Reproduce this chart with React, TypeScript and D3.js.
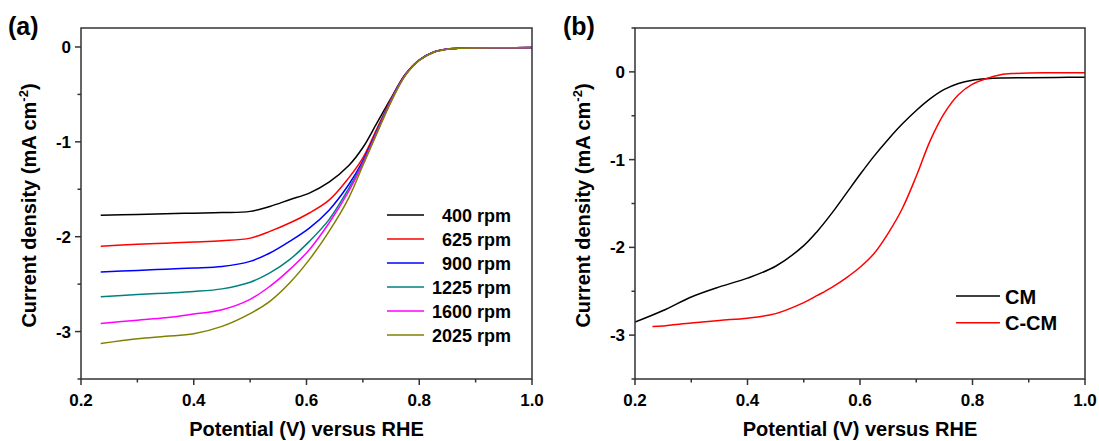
import React from "react";
import * as d3 from "d3";

// ---------- Panel (a) data ----------
const potentialA = [0.235, 0.3, 0.35, 0.4, 0.45, 0.5, 0.535, 0.57, 0.605, 0.64, 0.675, 0.7, 0.725, 0.75, 0.775, 0.8, 0.825, 0.85, 0.875, 0.9, 0.95, 1.0];
const rpm400 = [-1.775, -1.765, -1.758, -1.752, -1.746, -1.733, -1.681, -1.61, -1.54, -1.425, -1.25, -1.06, -0.8, -0.54, -0.29, -0.14, -0.055, -0.022, -0.013, -0.01, -0.008, -0.006];
const rpm625 = [-2.1, -2.08, -2.068, -2.056, -2.042, -2.015, -1.944, -1.856, -1.75, -1.615, -1.38, -1.17, -0.86, -0.55, -0.29, -0.135, -0.055, -0.022, -0.013, -0.01, -0.008, -0.006];
const rpm900 = [-2.372, -2.355, -2.342, -2.33, -2.314, -2.26, -2.172, -2.049, -1.909, -1.72, -1.45, -1.2, -0.88, -0.56, -0.295, -0.137, -0.056, -0.022, -0.013, -0.01, -0.008, -0.006];
const rpm1225 = [-2.633, -2.61, -2.595, -2.578, -2.55, -2.48, -2.382, -2.242, -2.049, -1.82, -1.49, -1.22, -0.89, -0.56, -0.297, -0.138, -0.056, -0.022, -0.013, -0.01, -0.008, -0.006];
const rpm1600 = [-2.914, -2.88, -2.855, -2.815, -2.77, -2.66, -2.523, -2.347, -2.137, -1.856, -1.52, -1.23, -0.9, -0.57, -0.3, -0.14, -0.057, -0.022, -0.013, -0.01, -0.008, -0.006];
const rpm2025 = [-3.125, -3.075, -3.05, -3.022, -2.945, -2.81, -2.681, -2.488, -2.242, -1.944, -1.59, -1.25, -0.91, -0.58, -0.305, -0.142, -0.058, -0.023, -0.013, -0.01, -0.008, -0.006];
const legendA = ["400 rpm", "625 rpm", "900 rpm", "1225 rpm", "1600 rpm", "2025 rpm"];
const colorsA = ["#000000", "#ff0000", "#0000ff", "#008080", "#ff00ff", "#808000"];

// ---------- Panel (b) data ----------
const potentialCM = [0.2, 0.25, 0.3, 0.35, 0.4, 0.45, 0.5, 0.525, 0.55, 0.575, 0.6, 0.625, 0.65, 0.675, 0.7, 0.725, 0.75, 0.775, 0.8, 0.825, 0.85, 0.9, 0.95, 1.0];
const currentCM = [-2.852, -2.72, -2.565, -2.45, -2.35, -2.215, -1.98, -1.81, -1.61, -1.39, -1.17, -0.96, -0.77, -0.595, -0.44, -0.305, -0.2, -0.132, -0.095, -0.078, -0.07, -0.066, -0.063, -0.061];
const potentialCCM = [0.231, 0.25, 0.3, 0.35, 0.4, 0.45, 0.5, 0.525, 0.55, 0.575, 0.6, 0.625, 0.65, 0.675, 0.7, 0.725, 0.75, 0.775, 0.8, 0.825, 0.85, 0.875, 0.9, 0.95, 1.0];
const currentCCM = [-2.902, -2.895, -2.862, -2.832, -2.807, -2.755, -2.63, -2.545, -2.455, -2.35, -2.227, -2.07, -1.84, -1.56, -1.19, -0.78, -0.47, -0.26, -0.14, -0.075, -0.032, -0.018, -0.012, -0.011, -0.011];
const legendB = ["CM", "C-CM"];
const colorsB = ["#000000", "#ff0000"];

const xTicks = [0.2, 0.4, 0.6, 0.8, 1.0];
const xMinor = [0.3, 0.5, 0.7, 0.9];
const yTicks = [0, -1, -2, -3];
const yMinorA = [-0.5, -1.5, -2.5, -3.5];
const yMinorB = [0.5, -0.5, -1.5, -2.5, -3.5];

const FONT = "'Liberation Sans', Arial, Helvetica, sans-serif";
const AXIS = "#333333";

type Series = { xs: number[]; ys: number[]; color: string };

function Panel(props: {
  left: number; right: number; top: number; bottom: number;
  yDomain: [number, number]; yMinor: number[]; series: Series[];
  tag: string; tagX: number; yTitleX: number; children?: React.ReactNode;
}) {
  const { left, right, top, bottom, yDomain, yMinor, series, tag, tagX, yTitleX } = props;
  const x = d3.scaleLinear().domain([0.2, 1.0]).range([left, right]);
  const y = d3.scaleLinear().domain(yDomain).range([bottom, top]);
  const line = d3.line<[number, number]>().x(d => x(d[0])).y(d => y(d[1])).curve(d3.curveCatmullRom.alpha(0.5));
  const midY = (top + bottom) / 2;
  const cid = tag === "(a)" ? "clipA" : "clipB";
  return (
    <g>
      <text x={tagX} y={35} fontFamily={FONT} fontWeight="bold" fontSize={25} fill="#000">{tag}</text>
      <defs>
        <clipPath id={cid}>
          <rect x={left} y={top} width={right - left} height={bottom - top} />
        </clipPath>
      </defs>
      <g clipPath={`url(#${cid})`}>
        {series.map((s, i) => (
          <path key={i} d={line(s.xs.map((v, k) => [v, s.ys[k]] as [number, number])) || ""} fill="none" stroke={s.color} strokeWidth={1.5} />
        ))}
      </g>
      <rect x={left} y={top} width={right - left} height={bottom - top} fill="none" stroke={AXIS} strokeWidth={1.5} />
      {xTicks.map(t => (
        <g key={"xt" + t}>
          <line x1={x(t)} x2={x(t)} y1={bottom} y2={bottom + 6} stroke={AXIS} strokeWidth={1.5} />
          <text x={x(t)} y={406} textAnchor="middle" fontFamily={FONT} fontWeight="bold" fontSize={17} fill="#000">{t.toFixed(1)}</text>
        </g>
      ))}
      {xMinor.map(t => (
        <line key={"xm" + t} x1={x(t)} x2={x(t)} y1={bottom} y2={bottom + 3.5} stroke={AXIS} strokeWidth={1.5} />
      ))}
      {yTicks.map(t => (
        <g key={"yt" + t}>
          <line x1={left - 6} x2={left} y1={y(t)} y2={y(t)} stroke={AXIS} strokeWidth={1.5} />
          <text x={left - 10} y={y(t) + 6} textAnchor="end" fontFamily={FONT} fontWeight="bold" fontSize={17} fill="#000">{String(t)}</text>
        </g>
      ))}
      {yMinor.map(t => (
        <line key={"ym" + t} x1={left - 3.5} x2={left} y1={y(t)} y2={y(t)} stroke={AXIS} strokeWidth={1.5} />
      ))}
      <text x={(left + right) / 2} y={436} textAnchor="middle" fontFamily={FONT} fontWeight="bold" fontSize={20} fill="#000">Potential (V) versus RHE</text>
      <text transform={`translate(${yTitleX},${midY + 2}) rotate(-90)`} textAnchor="middle" fontFamily={FONT} fontWeight="bold" fontSize={20} fill="#000">
        Current density (mA cm<tspan fontSize={13} dy={-8}>-2</tspan><tspan dy={8}>)</tspan>
      </text>
      {props.children}
    </g>
  );
}

export default function App() {
  const seriesA: Series[] = [rpm400, rpm625, rpm900, rpm1225, rpm1600, rpm2025].map((ys, i) => ({ xs: potentialA, ys, color: colorsA[i] }));
  const seriesB: Series[] = [
    { xs: potentialCM, ys: currentCM, color: colorsB[0] },
    { xs: potentialCCM, ys: currentCCM, color: colorsB[1] },
  ];
  return (
    <svg width={1099} height={441} style={{ position: "absolute", left: 0, top: 0, background: "#fff" }}>
      <Panel left={81} right={532} top={28} bottom={379} yDomain={[-3.5, 0.2]} yMinor={yMinorA} series={seriesA} tag="(a)" tagX={8} yTitleX={36}>
        {legendA.map((name, i) => (
          <g key={name}>
            <line x1={387} x2={424} y1={215 + i * 24} y2={215 + i * 24} stroke={colorsA[i]} strokeWidth={1.5} />
            <text x={511} y={221.5 + i * 24} textAnchor="end" fontFamily={FONT} fontWeight="bold" fontSize={18} fill="#000">{name}</text>
          </g>
        ))}
      </Panel>
      <Panel left={635} right={1085} top={28} bottom={379} yDomain={[-3.5, 0.5]} yMinor={yMinorB} series={seriesB} tag="(b)" tagX={563} yTitleX={590}>
        {legendB.map((name, i) => (
          <g key={name}>
            <line x1={956} x2={1000} y1={296 + i * 26.7} y2={296 + i * 26.7} stroke={colorsB[i]} strokeWidth={1.5} />
            <text x={1005} y={303.5 + i * 26.7} fontFamily={FONT} fontWeight="bold" fontSize={20} fill="#000">{name}</text>
          </g>
        ))}
      </Panel>
    </svg>
  );
}
